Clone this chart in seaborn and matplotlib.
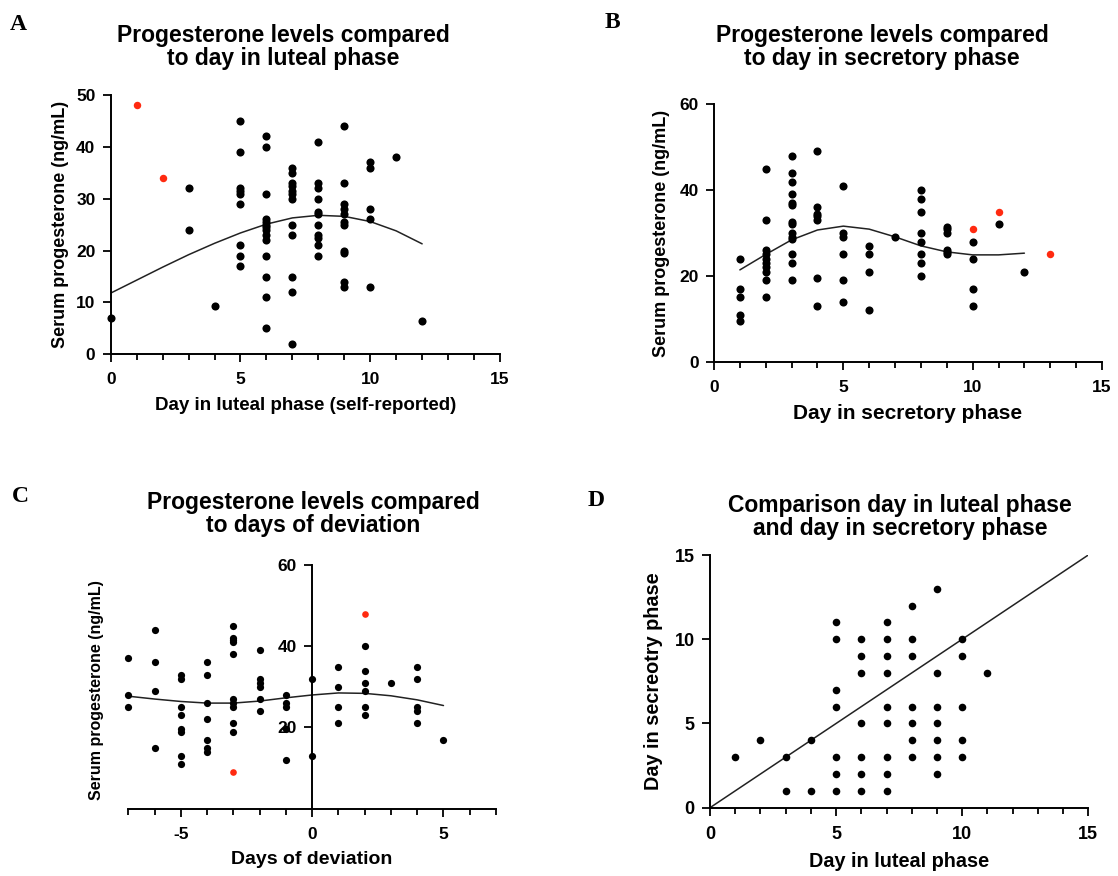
import matplotlib
matplotlib.use("Agg")
import matplotlib.pyplot as plt
import seaborn as sns
from matplotlib.ticker import MultipleLocator, FixedLocator

# Panel A: day in luteal phase (self-reported) vs serum progesterone
a_day = [0, 3, 3, 4,
         5, 5, 5, 5, 5, 5, 5, 5, 5,
         6, 6, 6, 6, 6, 6, 6, 6, 6, 6, 6, 6, 6, 6,
         7, 7, 7, 7, 7, 7, 7, 7, 7, 7, 7, 7,
         8, 8, 8, 8, 8, 8, 8, 8, 8, 8, 8,
         9, 9, 9, 9, 9, 9, 9, 9, 9, 9, 9,
         10, 10, 10, 10, 10,
         11, 12]
a_prog = [7, 32, 24, 9.4,
          45, 39, 32, 31.5, 31, 29, 21, 19, 17,
          42, 40, 31, 26, 25.5, 25, 24.5, 24, 23, 22, 19, 15, 11, 5,
          36, 35, 33, 32.5, 31.5, 31, 30, 25, 23, 15, 12, 2,
          41, 33, 32, 30, 27.5, 27, 25, 23, 22.5, 21, 19,
          44, 33, 29, 28, 27, 25.5, 25, 20, 19.5, 14, 13,
          37, 36, 28, 26, 13,
          38, 6.5]
a_red_day = [1, 2]
a_red_prog = [48, 34]
a_fit_day = [0, 1, 2, 3, 4, 5, 6, 7, 8, 9, 10, 11, 12]
a_fit_prog = [11.8, 14.3, 16.8, 19.2, 21.4, 23.4, 25.1, 26.3, 26.8, 26.6, 25.6, 23.8, 21.3]

# Panel B: day in secretory phase vs serum progesterone
b_day = [1, 1, 1, 1, 1,
         2, 2, 2, 2, 2, 2, 2, 2, 2, 2,
         3, 3, 3, 3, 3, 3, 3, 3, 3, 3, 3, 3, 3, 3,
         4, 4, 4, 4, 4, 4, 4,
         5, 5, 5, 5, 5, 5,
         6, 6, 6, 6,
         7,
         8, 8, 8, 8, 8, 8, 8, 8,
         9, 9, 9, 9, 9, 9,
         10, 10, 10, 10,
         11, 12]
b_prog = [24, 17, 15, 11, 9.5,
          45, 33, 26, 25, 24, 23, 22, 21, 19, 15,
          48, 44, 42, 39, 37, 36.5, 32.5, 32, 30, 29, 28.5, 25, 23, 19,
          49, 36, 34.5, 34, 33, 19.5, 13,
          41, 30, 29, 25, 19, 14,
          27, 25, 21, 12,
          29,
          40, 38, 35, 30, 28, 25, 23, 20,
          31.5, 31, 30, 26, 25.5, 25,
          28, 24, 17, 13,
          32, 21]
b_red_day = [10, 11, 13]
b_red_prog = [31, 35, 25]
b_fit_day = [1, 2, 3, 4, 5, 6, 7, 8, 9, 10, 11, 12]
b_fit_prog = [21.4, 25.0, 28.4, 30.7, 31.6, 30.9, 29.1, 27.0, 25.6, 24.9, 24.9, 25.3]

# Panel C: days of deviation vs serum progesterone
c_dev = [-7, -7, -7,
         -6, -6, -6, -6,
         -5, -5, -5, -5, -5, -5, -5, -5,
         -4, -4, -4, -4, -4, -4, -4,
         -3, -3, -3, -3, -3, -3, -3, -3, -3, -3,
         -2, -2, -2, -2, -2, -2,
         -1, -1, -1, -1, -1,
         0, 0,
         1, 1, 1, 1,
         2, 2, 2, 2, 2, 2,
         3,
         4, 4, 4, 4, 4,
         5]
c_prog = [37, 28, 25,
          44, 36, 29, 15,
          33, 32, 25, 23, 19.5, 19, 13, 11,
          36, 33, 26, 22, 17, 15, 14,
          45, 42, 41.5, 41, 38, 27, 26, 25, 21, 19,
          39, 32, 31, 30, 27, 24,
          28, 26, 25, 19.5, 12,
          32, 13,
          35, 30, 25, 21,
          40, 34, 31, 29, 25, 23,
          31,
          35, 32, 25, 24, 21,
          17]
c_red_dev = [-3, 2]
c_red_prog = [9, 48]
c_fit_dev = [-7, -6, -5, -4, -3, -2, -1, 0, 1, 2, 3, 4, 5]
c_fit_prog = [27.7, 27.0, 26.4, 26.0, 26.0, 26.5, 27.3, 28.0, 28.5, 28.4, 27.8, 26.8, 25.4]

# Panel D: day in luteal phase vs day in secretory phase
d_luteal = [1, 2, 3, 3, 4, 4,
            5, 5, 5, 5, 5, 5, 5,
            6, 6, 6, 6, 6, 6, 6,
            7, 7, 7, 7, 7, 7, 7, 7, 7,
            8, 8, 8, 8, 8, 8, 8,
            9, 9, 9, 9, 9, 9, 9,
            10, 10, 10, 10, 10,
            11]
d_secretory = [3, 4, 3, 1, 4, 1,
               11, 10, 7, 6, 3, 2, 1,
               10, 9, 8, 5, 3, 2, 1,
               11, 10, 9, 8, 6, 5, 3, 2, 1,
               12, 10, 9, 6, 5, 4, 3,
               13, 8, 6, 5, 4, 3, 2,
               10, 9, 6, 4, 3,
               8]
d_line_x = [0, 15]
d_line_y = [0, 15]

W, H = 1118, 876
RED = "#ff2a10"


def px(x, y):
    # pixel position (from top-left) -> figure fraction
    return x / W, 1 - y / H


def axes_box(left, top, right, bottom):
    return [left / W, 1 - bottom / H, (right - left) / W, (bottom - top) / H]


def style_axes(ax, tick_size):
    sns.despine(ax=ax)
    for side in ["left", "bottom"]:
        ax.spines[side].set_linewidth(1.4)
        ax.spines[side].set_color("black")
    ax.tick_params(which="major", length=6, width=1.3, labelsize=tick_size,
                   color="black", labelcolor="black", pad=5)
    ax.tick_params(which="minor", length=4.5, width=1.3, color="black")
    ax.tick_params(axis="x", which="major", pad=7)
    for lab in ax.get_xticklabels() + ax.get_yticklabels():
        lab.set_fontweight("bold")


def draw_points(ax, x, y, red_x, red_y, size):
    sns.scatterplot(x=x, y=y, color="black", s=size, linewidth=0, ax=ax,
                    clip_on=False, zorder=5)
    if red_x:
        sns.scatterplot(x=red_x, y=red_y, color=RED, s=size * 0.85, linewidth=0,
                        ax=ax, clip_on=False, zorder=5)


sns.set_theme(style="ticks")
plt.rcParams["font.family"] = ["Liberation Sans", "DejaVu Sans"]
plt.rcParams["font.weight"] = "bold"
plt.rcParams["axes.labelweight"] = "bold"
plt.rcParams["axes.unicode_minus"] = False
plt.rcParams["text.color"] = "black"
plt.rcParams["axes.labelcolor"] = "black"

fig = plt.figure(figsize=(W / 100, H / 100), dpi=100)
fig.patch.set_facecolor("white")

title_kw = dict(ha="center", va="center", fontsize=16.5, fontweight="bold", linespacing=1.05)
letter_kw = dict(ha="left", va="center", fontsize=17, fontweight="bold",
                 family=["Liberation Serif", "DejaVu Serif"])

# ---- Panel A
ax = fig.add_axes(axes_box(110.7, 95, 500, 354.3))
draw_points(ax, a_day, a_prog, a_red_day, a_red_prog, 34)
sns.lineplot(x=a_fit_day, y=a_fit_prog, color="#222222", linewidth=1.1, ax=ax)
ax.set_xlim(0, 15)
ax.set_ylim(0, 50)
ax.xaxis.set_major_locator(MultipleLocator(5))
ax.xaxis.set_minor_locator(MultipleLocator(1))
ax.yaxis.set_major_locator(MultipleLocator(10))
ax.set_xlabel("Day in luteal phase (self-reported)", fontsize=13.5, labelpad=7)
ax.set_ylabel("Serum progesterone (ng/mL)", fontsize=13, labelpad=5)
style_axes(ax, 12.5)
fig.text(*px(283, 47), "Progesterone levels compared\nto day in luteal phase", **title_kw)
fig.text(*px(10, 25), "A", **letter_kw)

# ---- Panel B
ax = fig.add_axes(axes_box(714, 104.3, 1102, 361.7))
draw_points(ax, b_day, b_prog, b_red_day, b_red_prog, 34)
sns.lineplot(x=b_fit_day, y=b_fit_prog, color="#222222", linewidth=1.1, ax=ax)
ax.set_xlim(0, 15)
ax.set_ylim(0, 60)
ax.xaxis.set_major_locator(MultipleLocator(5))
ax.xaxis.set_minor_locator(MultipleLocator(1))
ax.yaxis.set_major_locator(MultipleLocator(20))
ax.set_xlabel("Day in secretory phase", fontsize=15, labelpad=7)
ax.set_ylabel("Serum progesterone (ng/mL)", fontsize=13, labelpad=7)
style_axes(ax, 12.5)
fig.text(*px(882, 47), "Progesterone levels compared\nto day in secretory phase", **title_kw)
fig.text(*px(605, 23), "B", **letter_kw)

# ---- Panel C
ax = fig.add_axes(axes_box(128.3, 565, 496, 808.7))
draw_points(ax, c_dev, c_prog, c_red_dev, c_red_prog, 27)
sns.lineplot(x=c_fit_dev, y=c_fit_prog, color="#222222", linewidth=1.1, ax=ax)
ax.set_xlim(-7, 7)
ax.set_ylim(0, 60)
ax.spines["left"].set_position(("data", 0))
ax.xaxis.set_major_locator(FixedLocator([-5, 0, 5]))
ax.xaxis.set_minor_locator(MultipleLocator(1))
ax.yaxis.set_major_locator(FixedLocator([20, 40, 60]))
ax.set_xlabel("Days of deviation", fontsize=14, labelpad=7)
ax.set_ylabel("")
style_axes(ax, 12.5)
fig.text(*px(97, 690), "Serum progesterone (ng/mL)", rotation=90, ha="center",
         va="center", fontsize=11.5, fontweight="bold")
fig.text(*px(313, 514), "Progesterone levels compared\nto days of deviation", **title_kw)
fig.text(*px(12, 497), "C", **letter_kw)

# ---- Panel D
ax = fig.add_axes(axes_box(710, 555, 1088.3, 807.7))
draw_points(ax, d_luteal, d_secretory, [], [], 30)
sns.lineplot(x=d_line_x, y=d_line_y, color="#222222", linewidth=1.1, ax=ax)
ax.set_xlim(0, 15)
ax.set_ylim(0, 15)
ax.xaxis.set_major_locator(MultipleLocator(5))
ax.xaxis.set_minor_locator(MultipleLocator(1))
ax.yaxis.set_major_locator(MultipleLocator(5))
ax.set_xlabel("Day in luteal phase", fontsize=14.3, labelpad=7)
ax.set_ylabel("Day in secreotry phase", fontsize=14.3, labelpad=8)
style_axes(ax, 13)
fig.text(*px(900, 517), "Comparison day in luteal phase\nand day in secretory phase", **title_kw)
fig.text(*px(588, 500), "D", **letter_kw)

fig.savefig("out.png", dpi=100, facecolor="white")
